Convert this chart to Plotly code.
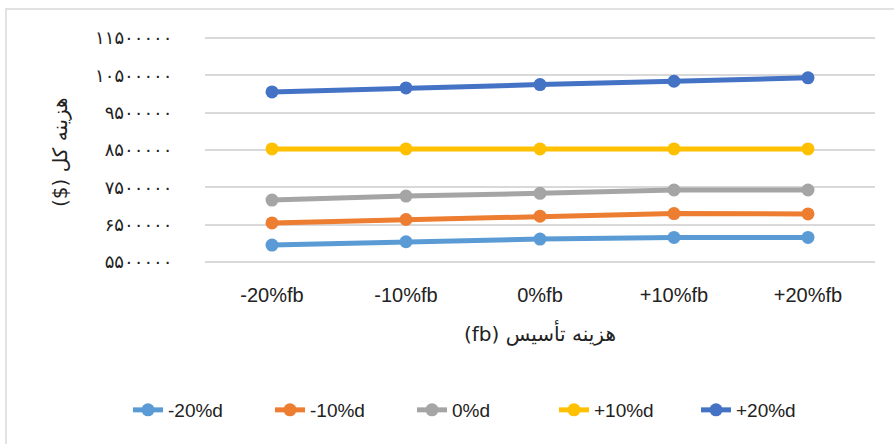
import plotly.graph_objects as go

# Installation-cost scenarios (x) and total cost per depreciation scenario
categories = ["-20%fb", "-10%fb", "0%fb", "+10%fb", "+20%fb"]
series_names = ["-20%d", "-10%d", "0%d", "+10%d", "+20%d"]
d_minus20 = [5956000, 6045000, 6117000, 6160000, 6160000]
d_minus10 = [6550000, 6640000, 6730000, 6800000, 6790000]
d_zero = [7160000, 7267000, 7340000, 7430000, 7430000]
d_plus10 = [8530000, 8530000, 8530000, 8530000, 8530000]
d_plus20 = [10053000, 10160000, 10250000, 10340000, 10430000]
series_values = [d_minus20, d_minus10, d_zero, d_plus10, d_plus20]
colors = ["#5B9BD5", "#ED7D31", "#A5A5A5", "#FFC000", "#4472C4"]

# y ticks with Persian digits
tick_vals = [5500000, 6500000, 7500000, 8500000, 9500000, 10500000, 11500000]
persian = str.maketrans("0123456789", "۰۱۲۳۴۵۶۷۸۹")
tick_text = [str(v).translate(persian) for v in tick_vals]

# right-to-left embedding so the Persian titles read correctly
RLE, PDF = "\u202B", "\u202C"
x_title = RLE + "هزینه تأسیس (fb)" + PDF
y_title = RLE + "هزینه کل ($)" + PDF

latin_font = "Liberation Sans, Arial, sans-serif"
fa_font = "DejaVu Sans, Noto Sans, sans-serif"

fig = go.Figure()
for name, vals, col in zip(series_names, series_values, colors):
    fig.add_trace(go.Scatter(
        x=categories, y=vals, name=name, mode="lines+markers",
        line=dict(color=col, width=5),
        marker=dict(color=col, size=13, symbol="circle"),
        hoverinfo="skip",
    ))

W, H = 894, 444
ml, mr, mt, mb = 205, 19, 36, 180
pw = W - ml - mr
ph = H - mt - mb

def px_x(p):
    return (p - ml) / pw

def px_y(p):
    return (H - mb - p) / ph

fig.update_layout(
    width=W, height=H,
    margin=dict(l=ml, r=mr, t=mt, b=mb, autoexpand=False),
    paper_bgcolor="white", plot_bgcolor="white",
    showlegend=True,
    legend=dict(
        orientation="h", x=px_x(128), y=px_y(410),
        xanchor="left", yanchor="middle",
        font=dict(family=latin_font, size=19, color="#222"),
        itemwidth=30, entrywidth=97, entrywidthmode="pixels",
        tracegroupgap=0,
    ),
    xaxis=dict(
        type="category", showgrid=False, showline=False, zeroline=False,
        ticks="outside", ticklen=13, tickcolor="rgba(0,0,0,0)",
        tickfont=dict(family=latin_font, size=20, color="#222"),
        range=[-0.5, 4.5],
    ),
    yaxis=dict(
        range=[5450000, 11550000],
        tickvals=tick_vals, ticktext=tick_text,
        showgrid=True, gridcolor="#D9D9D9", gridwidth=1.5,
        zeroline=False, showline=False,
        ticks="outside", ticklen=28, tickcolor="rgba(0,0,0,0)",
        tickfont=dict(family=fa_font, size=18, color="#222"),
    ),
    annotations=[
        dict(text=x_title, xref="paper", yref="paper",
             x=px_x(540), y=px_y(333), showarrow=False,
             xanchor="center", yanchor="middle",
             font=dict(family=fa_font, size=20, color="#222")),
        dict(text=y_title, xref="paper", yref="paper",
             x=px_x(60), y=px_y(152), showarrow=False, textangle=-90,
             xanchor="center", yanchor="middle",
             font=dict(family=fa_font, size=20, color="#222")),
    ],
    shapes=[
        dict(type="rect", xref="paper", yref="paper",
             x0=px_x(6), x1=px_x(904), y0=px_y(454), y1=px_y(9),
             line=dict(color="#D9D9D9", width=1.5), fillcolor="rgba(0,0,0,0)",
             layer="below"),
    ],
)

fig.write_html("out.html")
